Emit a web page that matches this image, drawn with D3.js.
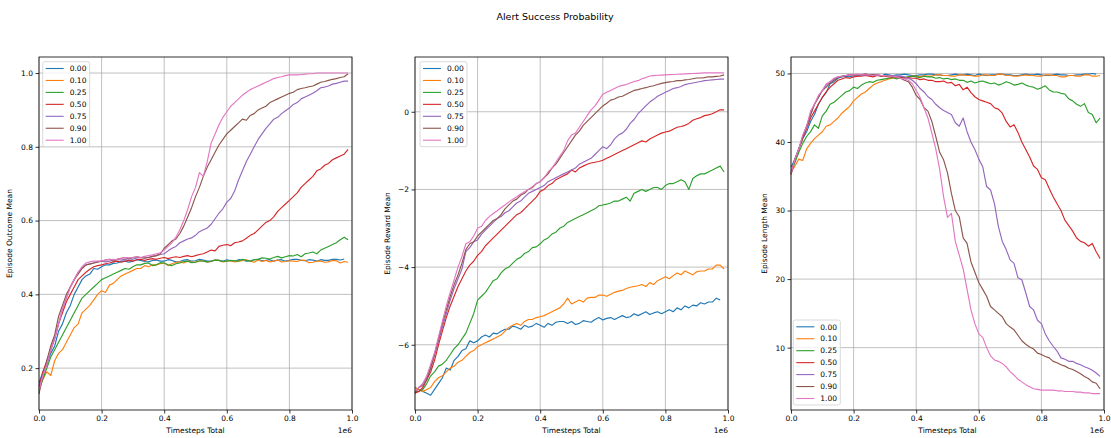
<!DOCTYPE html>
<html>
<head>
<meta charset="utf-8">
<script src="https://cdn.jsdelivr.net/npm/d3@7"></script>
<style>
  body { margin: 0; background: #fff; }
  text { font-family: "DejaVu Sans", sans-serif; fill: #000; }
</style>
</head>
<body>
<div id="chart"></div>
<script>
// alert success probabilities (legend labels) and tab10 colours
const probs = ["0.00", "0.10", "0.25", "0.50", "0.75", "0.90", "1.00"];
const colors = ["#1f77b4", "#ff7f0e", "#2ca02c", "#d62728", "#9467bd", "#8c564b", "#e377c2"];

// logging points, every 12.5k timesteps (units of 1e6)
const steps = d3.range(80).map(i => +(i * 0.0125).toFixed(4));

const xTicks = [0, 0.2, 0.4, 0.6, 0.8, 1.0];
const outcomeTicks = [0.2, 0.4, 0.6, 0.8, 1.0];
const rewardTicks = [-6, -4, -2, 0];
const lengthTicks = [10, 20, 30, 40, 50];

// Episode Outcome Mean, one row per probability
const outcomeMean = [
  [0.16,0.19,0.21,0.24,0.26,0.30,0.32,0.35,0.37,0.40,
   0.42,0.44,0.45,0.455,0.47,0.468,0.475,0.48,0.48,0.484,
   0.485,0.49,0.49,0.487,0.49,0.494,0.492,0.489,0.488,0.492,
   0.493,0.49,0.49,0.494,0.492,0.488,0.489,0.493,0.494,0.49,
   0.491,0.495,0.493,0.49,0.49,0.493,0.492,0.49,0.494,0.491,
   0.49,0.494,0.493,0.49,0.491,0.494,0.495,0.491,0.492,0.494,
   0.49,0.493,0.494,0.49,0.492,0.495,0.495,0.492,0.491,0.494,
   0.493,0.49,0.494,0.492,0.492,0.495,0.495,0.493,0.496,null],
  [0.15,0.17,0.19,0.18,0.22,0.24,0.25,0.27,0.29,0.31,
   0.32,0.35,0.36,0.37,0.385,0.40,0.41,0.405,0.425,0.43,
   0.44,0.45,0.455,0.46,0.465,0.47,0.47,0.478,0.475,0.48,
   0.48,0.483,0.485,0.478,0.483,0.487,0.488,0.485,0.49,0.488,
   0.487,0.49,0.491,0.487,0.489,0.493,0.492,0.488,0.49,0.491,
   0.488,0.49,0.491,0.494,0.49,0.487,0.493,0.489,0.492,0.488,
   0.49,0.493,0.488,0.489,0.491,0.49,0.489,0.493,0.492,0.486,
   0.487,0.49,0.49,0.487,0.488,0.492,0.491,0.485,0.489,0.487],
  [0.14,0.17,0.20,0.23,0.25,0.27,0.29,0.31,0.33,0.35,
   0.37,0.39,0.40,0.41,0.42,0.43,0.44,0.445,0.45,0.455,
   0.46,0.465,0.47,0.468,0.475,0.48,0.48,0.484,0.485,0.478,
   0.48,0.486,0.485,0.48,0.478,0.483,0.485,0.489,0.49,0.486,
   0.487,0.491,0.49,0.488,0.489,0.493,0.492,0.489,0.49,0.492,
   0.491,0.49,0.495,0.492,0.49,0.494,0.495,0.499,0.498,0.496,
   0.50,0.503,0.499,0.502,0.505,0.504,0.508,0.502,0.51,0.512,
   0.515,0.51,0.52,0.525,0.53,0.535,0.54,0.548,0.555,0.548],
  [0.15,0.19,0.22,0.25,0.28,0.32,0.35,0.38,0.40,0.42,
   0.44,0.45,0.46,0.468,0.475,0.478,0.48,0.483,0.485,0.488,
   0.49,0.487,0.49,0.492,0.49,0.494,0.495,0.492,0.495,0.497,
   0.495,0.498,0.50,0.497,0.50,0.502,0.50,0.503,0.505,0.502,
   0.505,0.508,0.51,0.515,0.52,0.518,0.53,0.533,0.535,0.532,
   0.54,0.542,0.545,0.552,0.56,0.565,0.575,0.585,0.595,0.60,
   0.61,0.625,0.635,0.645,0.655,0.665,0.675,0.69,0.70,0.71,
   0.72,0.735,0.74,0.75,0.755,0.765,0.77,0.775,0.78,0.793],
  [0.14,0.18,0.21,0.25,0.28,0.32,0.36,0.39,0.42,0.44,
   0.46,0.47,0.48,0.483,0.485,0.488,0.49,0.488,0.49,0.493,
   0.495,0.493,0.495,0.497,0.495,0.499,0.50,0.498,0.50,0.503,
   0.505,0.508,0.51,0.518,0.525,0.53,0.54,0.545,0.55,0.553,
   0.56,0.57,0.575,0.58,0.59,0.605,0.62,0.632,0.65,0.66,
   0.68,0.71,0.735,0.76,0.78,0.80,0.82,0.835,0.85,0.862,
   0.875,0.88,0.89,0.898,0.905,0.915,0.92,0.93,0.935,0.94,
   0.945,0.952,0.96,0.962,0.965,0.97,0.972,0.975,0.978,0.978],
  [0.13,0.18,0.22,0.26,0.29,0.34,0.37,0.40,0.42,0.44,
   0.455,0.47,0.48,0.482,0.485,0.488,0.49,0.493,0.495,0.49,
   0.495,0.498,0.50,0.497,0.50,0.502,0.50,0.499,0.50,0.503,
   0.505,0.51,0.525,0.535,0.545,0.55,0.565,0.585,0.61,0.635,
   0.665,0.69,0.72,0.745,0.765,0.785,0.805,0.82,0.835,0.845,
   0.855,0.865,0.875,0.872,0.885,0.89,0.90,0.905,0.91,0.92,
   0.925,0.93,0.935,0.94,0.945,0.948,0.955,0.958,0.96,0.963,
   0.965,0.97,0.975,0.977,0.98,0.983,0.985,0.988,0.99,0.998],
  [0.14,0.18,0.21,0.25,0.28,0.32,0.36,0.39,0.42,0.44,
   0.46,0.475,0.485,0.488,0.49,0.49,0.49,0.493,0.495,0.494,
   0.495,0.497,0.50,0.499,0.50,0.502,0.50,0.503,0.505,0.507,
   0.51,0.513,0.52,0.53,0.54,0.555,0.575,0.60,0.63,0.665,
   0.69,0.73,0.72,0.76,0.81,0.835,0.86,0.88,0.895,0.91,
   0.92,0.93,0.94,0.948,0.955,0.96,0.965,0.97,0.975,0.98,
   0.985,0.988,0.99,0.993,0.995,0.995,0.995,0.996,0.997,0.998,
   0.998,1.0,1.0,1.0,1.0,1.0,1.0,1.0,1.0,1.0]
];

// Episode Reward Mean
const rewardMean = [
  [-7.1,-7.15,-7.2,-7.25,-7.3,-7.15,-7.0,-6.85,-6.6,-6.65,
   -6.4,-6.3,-6.15,-6.1,-5.9,-5.95,-5.9,-5.8,-5.75,-5.8,
   -5.7,-5.72,-5.65,-5.6,-5.6,-5.52,-5.55,-5.6,-5.5,-5.55,
   -5.52,-5.45,-5.5,-5.55,-5.45,-5.5,-5.42,-5.4,-5.4,-5.45,
   -5.4,-5.48,-5.45,-5.38,-5.4,-5.42,-5.35,-5.3,-5.36,-5.32,
   -5.3,-5.35,-5.3,-5.25,-5.3,-5.28,-5.2,-5.25,-5.2,-5.15,
   -5.22,-5.18,-5.15,-5.2,-5.15,-5.1,-5.15,-5.05,-5.1,-5.0,
   -5.05,-4.98,-5.0,-4.92,-4.95,-4.9,-4.9,-4.8,-4.85,null],
  [-7.1,-7.15,-7.2,-7.15,-7.1,-6.95,-6.85,-6.8,-6.7,-6.6,
   -6.55,-6.45,-6.4,-6.3,-6.2,-6.15,-6.05,-6.0,-5.95,-5.9,
   -5.85,-5.8,-5.75,-5.65,-5.55,-5.5,-5.45,-5.5,-5.4,-5.35,
   -5.35,-5.3,-5.28,-5.25,-5.2,-5.15,-5.1,-5.05,-4.95,-4.8,
   -4.95,-4.9,-4.85,-4.9,-4.8,-4.78,-4.78,-4.72,-4.72,-4.75,
   -4.7,-4.65,-4.62,-4.6,-4.55,-4.52,-4.5,-4.48,-4.45,-4.5,
   -4.4,-4.45,-4.35,-4.3,-4.25,-4.3,-4.22,-4.15,-4.2,-4.1,
   -4.15,-4.2,-4.12,-4.1,-4.1,-4.05,-4.05,-3.95,-3.95,-4.05],
  [-7.2,-7.2,-7.15,-7.0,-6.8,-6.7,-6.55,-6.5,-6.4,-6.25,
   -6.1,-6.0,-5.85,-5.7,-5.45,-5.2,-4.85,-4.75,-4.65,-4.5,
   -4.35,-4.3,-4.15,-4.05,-4.0,-3.9,-3.8,-3.75,-3.65,-3.6,
   -3.5,-3.48,-3.4,-3.3,-3.25,-3.15,-3.1,-3.0,-2.95,-2.85,
   -2.8,-2.75,-2.7,-2.65,-2.6,-2.55,-2.5,-2.42,-2.4,-2.38,
   -2.35,-2.3,-2.3,-2.25,-2.2,-2.3,-2.1,-2.05,-2.0,-2.05,
   -2.0,-1.95,-1.95,-2.0,-1.9,-1.85,-1.85,-1.8,-1.75,-1.8,
   -2.0,-1.72,-1.65,-1.6,-1.6,-1.55,-1.5,-1.45,-1.4,-1.55],
  [-7.25,-7.2,-7.1,-6.9,-6.7,-6.4,-6.0,-5.65,-5.3,-5.0,
   -4.75,-4.5,-4.3,-4.1,-3.95,-3.85,-3.7,-3.6,-3.45,-3.35,
   -3.25,-3.15,-3.05,-2.95,-2.85,-2.75,-2.65,-2.6,-2.5,-2.4,
   -2.3,-2.2,-2.05,-2.0,-1.9,-1.85,-1.75,-1.7,-1.65,-1.6,
   -1.5,-1.55,-1.45,-1.4,-1.35,-1.32,-1.3,-1.28,-1.25,-1.2,
   -1.15,-1.1,-1.05,-1.0,-0.95,-0.9,-0.85,-0.8,-0.75,-0.78,
   -0.7,-0.65,-0.6,-0.55,-0.52,-0.5,-0.45,-0.4,-0.38,-0.35,
   -0.3,-0.22,-0.18,-0.15,-0.1,-0.08,-0.05,0.0,0.05,0.05],
  [-7.2,-7.1,-7.0,-6.85,-6.6,-6.25,-5.9,-5.55,-5.2,-4.85,
   -4.55,-4.3,-4.05,-3.6,-3.5,-3.35,-3.3,-3.15,-3.05,-2.95,
   -2.85,-2.75,-2.7,-2.6,-2.55,-2.45,-2.35,-2.3,-2.2,-2.1,
   -2.05,-2.0,-1.95,-1.9,-1.8,-1.75,-1.7,-1.65,-1.6,-1.55,
   -1.5,-1.45,-1.35,-1.3,-1.25,-1.2,-1.1,-1.0,-0.9,-0.95,
   -0.85,-0.7,-0.6,-0.55,-0.45,-0.3,-0.2,-0.05,0.05,0.15,
   0.25,0.32,0.4,0.45,0.5,0.55,0.6,0.62,0.65,0.7,
   0.72,0.74,0.76,0.78,0.8,0.81,0.82,0.83,0.84,0.84],
  [-7.25,-7.1,-7.05,-6.9,-6.6,-6.25,-5.85,-5.45,-5.1,-4.75,
   -4.45,-4.2,-3.9,-3.55,-3.4,-3.35,-3.2,-3.1,-3.0,-2.9,
   -2.8,-2.75,-2.65,-2.5,-2.4,-2.3,-2.25,-2.15,-2.1,-2.0,
   -1.95,-1.85,-1.8,-1.7,-1.6,-1.45,-1.35,-1.2,-1.05,-0.9,
   -0.75,-0.6,-0.5,-0.35,-0.25,-0.15,-0.05,0.05,0.15,0.22,
   0.3,0.33,0.38,0.4,0.45,0.5,0.55,0.57,0.6,0.62,
   0.65,0.67,0.7,0.73,0.75,0.77,0.78,0.8,0.8,0.82,
   0.83,0.85,0.87,0.87,0.88,0.9,0.9,0.91,0.92,0.95],
  [-7.2,-7.1,-7.0,-6.8,-6.5,-6.2,-5.8,-5.4,-5.0,-4.65,
   -4.33,-4.0,-3.73,-3.4,-3.35,-3.2,-3.0,-2.95,-2.8,-2.7,
   -2.62,-2.55,-2.47,-2.4,-2.32,-2.25,-2.19,-2.12,-2.06,-2.0,
   -1.93,-1.85,-1.8,-1.7,-1.55,-1.45,-1.3,-1.15,-1.0,-0.75,
   -0.6,-0.55,-0.4,-0.25,-0.1,0.05,0.15,0.3,0.45,0.5,
   0.55,0.6,0.65,0.68,0.7,0.74,0.78,0.8,0.85,0.88,
   0.92,0.93,0.94,0.945,0.95,0.955,0.96,0.965,0.97,0.975,
   0.98,0.985,0.99,0.995,1.0,1.0,1.0,1.0,1.0,1.0]
];

// Episode Length Mean
const lengthMean = [
  [36.3,37.5,39,40.5,41.5,43,44,45.5,46.5,47.2,
   48.5,48.8,49.3,49.5,49.6,49.5,49.7,49.6,49.8,49.7,
   49.7,49.8,49.8,49.6,49.9,49.8,49.7,49.8,49.8,49.9,
   49.8,49.7,49.7,49.8,49.8,49.9,49.9,49.8,49.8,49.7,
   49.7,49.8,49.9,49.8,49.8,49.9,49.8,49.7,49.9,49.8,
   49.7,49.8,49.8,49.9,49.9,49.8,49.8,49.7,49.7,49.8,
   49.9,49.8,49.8,49.9,49.8,49.7,49.7,49.8,49.9,49.8,
   49.8,49.7,49.7,49.8,49.8,49.9,49.9,50.0,49.9,null],
  [35.5,36.5,37.5,37.3,39.0,39.8,40.5,41.0,41.5,42.3,
   42.5,43.0,43.5,44.2,44.7,45.2,46.0,46.5,47.0,47.3,
   47.8,48.3,48.6,48.8,49.0,49.2,49.3,49.4,49.5,49.4,
   49.5,49.6,49.6,49.5,49.7,49.6,49.6,49.8,49.8,49.7,
   49.7,49.6,49.6,49.8,49.8,49.7,49.7,49.6,49.6,49.8,
   49.8,49.7,49.7,49.9,49.9,49.7,49.7,49.6,49.6,49.7,
   49.8,49.7,49.7,49.6,49.6,49.8,49.8,49.7,49.7,49.5,
   49.5,49.7,49.7,49.6,49.6,49.8,49.8,49.6,49.6,49.7],
  [35.5,37.0,38.5,39.8,40.8,41.5,42.5,42.0,43.8,44.5,
   45.5,45.8,46.3,46.8,47.3,47.5,48.0,47.8,48.3,48.6,
   48.8,48.7,49.0,49.1,49.2,49.3,49.4,49.2,49.5,49.4,
   49.5,49.6,49.5,49.4,49.6,49.5,49.5,49.3,49.4,49.2,
   49.3,49.1,49.2,49.0,49.0,48.7,48.9,48.6,48.8,48.9,
   48.7,48.5,48.6,48.3,48.5,48.8,48.6,48.3,48.4,48.6,
   48.3,48.1,48.0,47.7,47.9,48.2,47.6,47.3,47.3,47.1,
   47.0,46.3,46.0,45.5,45.2,45.6,44.3,44.0,42.8,43.5],
  [35.5,37.5,39,40.5,42,43.5,44.5,45.5,46.5,47.3,
   48.0,48.5,49.0,49.2,49.4,49.3,49.5,49.6,49.6,49.7,
   49.6,49.5,49.7,49.6,49.6,49.5,49.5,49.6,49.5,49.3,
   49.4,49.3,49.3,49.1,49.2,49.0,49.0,48.8,48.8,48.9,
   48.6,48.7,48.2,48.4,47.6,48.0,47.2,46.6,46.2,46.0,
   45.8,45.6,45.0,44.8,44.2,43.0,42.2,42.5,41.4,40.0,
   38.9,37.8,36.5,36.0,34.8,34.5,33.2,32.0,31.0,30.0,
   28.6,27.8,27.0,26.0,25.5,25.3,24.8,25.2,24.0,23.0],
  [35.3,37.5,39,40.8,42.3,44.0,45.5,46.5,47.5,48.3,
   48.8,49.2,49.5,49.6,49.7,49.8,49.8,49.7,49.8,49.9,
   49.8,49.8,49.8,49.7,49.7,49.6,49.7,49.6,49.6,49.5,
   49.3,49.0,48.5,47.8,47.3,46.6,46.2,45.5,45.0,44.6,
   44.3,44.0,42.8,42.3,43.5,41.5,40.0,38.9,37.5,36.4,
   33.5,33.0,31.0,27.7,25.5,24.3,22.8,22.3,20.2,19.9,
   18.0,16.0,15.5,14.0,13.5,12.0,11.0,10.2,9.5,8.5,
   8.3,8.0,8.0,7.7,7.5,7.2,7.0,6.7,6.3,5.8],
  [35.2,37.5,39,40.8,42.3,44.0,45.5,46.5,47.5,48.0,
   48.6,49.0,49.4,49.6,49.7,49.8,49.8,49.8,49.8,49.9,
   49.8,49.8,49.8,49.7,49.7,49.6,49.6,49.4,49.3,49.0,
   48.8,48.0,46.8,46.2,45.0,44.5,43.0,40.8,38.5,37.4,
   35.5,32.5,30.0,29.1,26.0,25.2,22.5,21.0,19.5,18.5,
   17.5,16.0,15.5,15.0,14.5,13.5,13.0,12.6,11.8,11.0,
   10.5,10.1,9.8,9.2,9.0,8.7,8.5,8.0,7.8,7.5,
   7.3,7.0,6.8,6.5,6.2,5.8,5.5,5.0,4.8,4.0],
  [35.3,37.5,39,41.0,42.3,44.5,45.5,46.8,47.5,48.5,
   48.8,49.3,49.5,49.6,49.7,49.8,49.8,49.9,49.8,49.8,
   49.8,49.7,49.8,49.7,49.7,49.6,49.6,49.5,49.3,49.2,
   49.0,48.5,47.5,46.5,45.0,43.5,41.3,39.0,36.0,32.0,
   29.0,29.6,25.5,23.5,21.5,18.5,15.5,13.5,12.0,11.5,
   10.0,8.8,8.2,8.0,7.7,7.2,6.5,6.0,5.4,5.0,
   4.6,4.3,4.0,3.9,3.8,3.8,3.8,3.8,3.7,3.7,
   3.6,3.6,3.6,3.5,3.5,3.4,3.4,3.3,3.3,3.3]
];

const width = 1111, height = 438;
const svg = d3.select("#chart").append("svg")
  .attr("width", width)
  .attr("height", height);

svg.append("text")
  .attr("x", 555).attr("y", 20)
  .attr("text-anchor", "middle")
  .style("font-size", "9.5px")
  .text("Alert Success Probability");

const minus = s => s.replace("-", "\u2212");

function drawPanel(cfg) {
  const top = 57, h = 353, w = 313;
  const g = svg.append("g").attr("transform", `translate(${cfg.left},${top})`);

  const x = d3.scaleLinear().domain([0, 1]).range([0, w]);
  const y = d3.scaleLinear().domain(cfg.domain).range([h, 0]);

  // grid
  g.append("g").selectAll("line").data(xTicks).join("line")
    .attr("x1", d => x(d)).attr("x2", d => x(d))
    .attr("y1", 0).attr("y2", h)
    .attr("stroke", "#b0b0b0").attr("stroke-width", 0.8);
  g.append("g").selectAll("line").data(cfg.ticks).join("line")
    .attr("y1", d => y(d)).attr("y2", d => y(d))
    .attr("x1", 0).attr("x2", w)
    .attr("stroke", "#b0b0b0").attr("stroke-width", 0.8);

  // series
  const line = d3.line()
    .defined(d => d[1] !== null)
    .x(d => x(d[0]))
    .y(d => y(d[1]));

  cfg.values.forEach(function (vals, i) {
    g.append("path")
      .datum(steps.map((s, j) => [s, vals[j]]))
      .attr("fill", "none")
      .attr("stroke", colors[i])
      .attr("stroke-width", 1.15)
      .attr("stroke-linejoin", "round")
      .attr("d", line);
  });

  // axes
  const xAxis = d3.axisBottom(x).tickValues(xTicks).tickFormat(d3.format(".1f"))
    .tickSize(3.5).tickPadding(2.5);
  const yAxis = d3.axisLeft(y).tickValues(cfg.ticks).tickFormat(d => minus(cfg.fmt(d)))
    .tickSize(3.5).tickPadding(2.5);

  const gx = g.append("g").attr("transform", `translate(0,${h})`).call(xAxis);
  const gy = g.append("g").call(yAxis);
  [gx, gy].forEach(a => {
    a.select(".domain").remove();
    a.selectAll(".tick line").attr("stroke", "#000").attr("stroke-width", 0.8);
    a.selectAll(".tick text").style("font-size", "7.5px").style("font-family", "DejaVu Sans");
  });

  g.append("rect")
    .attr("width", w).attr("height", h)
    .attr("fill", "none").attr("stroke", "#000").attr("stroke-width", 0.8);

  g.append("text")
    .attr("x", w / 2).attr("y", h + 23)
    .attr("text-anchor", "middle")
    .style("font-size", "7.5px")
    .text("Timesteps Total");
  g.append("text")
    .attr("x", w).attr("y", h + 23)
    .attr("text-anchor", "end")
    .style("font-size", "7.5px")
    .text("1e6");

  g.append("text")
    .attr("transform", `translate(${cfg.labelX},${h / 2}) rotate(-90)`)
    .attr("text-anchor", "middle")
    .style("font-size", "7.5px")
    .text(cfg.label);

  // legend
  const lw = 47, lh = 85;
  const ly = cfg.legendBottom ? h - lh - 5 : 4.7;
  const lg = g.append("g").attr("transform", `translate(${cfg.legendX},${ly})`);
  lg.append("rect")
    .attr("width", lw).attr("height", lh).attr("rx", 2)
    .attr("fill", "#fff").attr("fill-opacity", 0.8)
    .attr("stroke", "#d0d0d0").attr("stroke-width", 0.8);
  probs.forEach(function (p, i) {
    const yy = 6.8 + i * 11.95;
    lg.append("line")
      .attr("x1", 3).attr("x2", 21).attr("y1", yy).attr("y2", yy)
      .attr("stroke", colors[i]).attr("stroke-width", 1.1);
    lg.append("text")
      .attr("x", 27).attr("y", yy + 2.7)
      .style("font-size", "7.5px")
      .text(p);
  });
}

drawPanel({ left: 39, values: outcomeMean, domain: [0.0865, 1.0435], ticks: outcomeTicks,
  fmt: d3.format(".1f"), label: "Episode Outcome Mean", labelX: -27, legendX: 3.7, legendBottom: false });
drawPanel({ left: 415, values: rewardMean, domain: [-7.68, 1.41], ticks: rewardTicks,
  fmt: d3.format("d"), label: "Episode Reward Mean", labelX: -25, legendX: 5, legendBottom: false });
drawPanel({ left: 791, values: lengthMean, domain: [0.9, 52.4], ticks: lengthTicks,
  fmt: d3.format("d"), label: "Episode Length Mean", labelX: -24, legendX: 2.3, legendBottom: true });
</script>
</body>
</html>
